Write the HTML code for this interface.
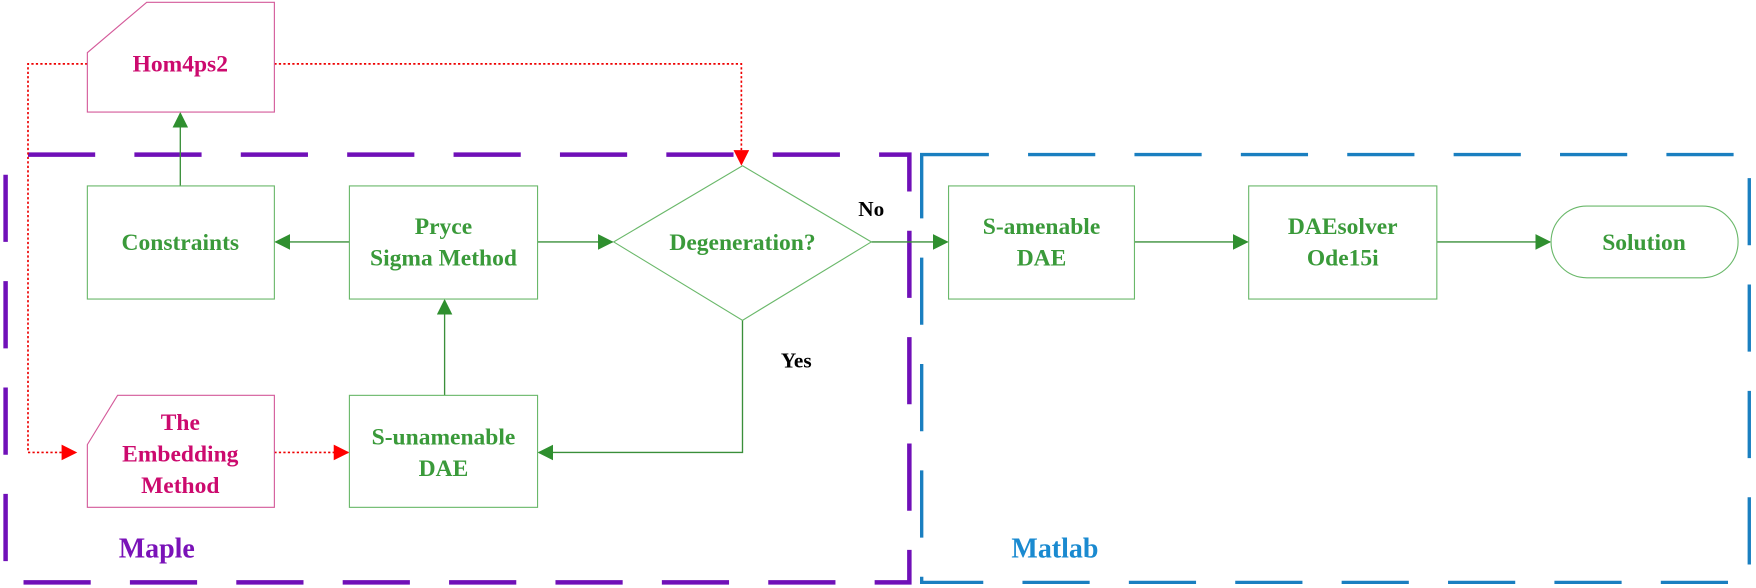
<!DOCTYPE html>
<html><head><meta charset="utf-8"><style>
html,body{margin:0;padding:0;background:#fff;width:1756px;height:588px;overflow:hidden}
svg{display:block}
text{font-family:"Liberation Serif",serif;font-weight:bold;text-anchor:middle}
.g{fill:#3a9a3a;font-size:21px}
.m{fill:#cc0a6e;font-size:21px}
</style></head><body>
<svg width="1756" height="588" viewBox="0 0 1568 525" xmlns="http://www.w3.org/2000/svg">
<defs>
<marker id="ag" markerWidth="14" markerHeight="14" refX="13" refY="7" orient="auto" markerUnits="userSpaceOnUse"><path d="M0,0 L14,7 L0,14 z" fill="#2f8f2f"/></marker>
<marker id="ar" markerWidth="14" markerHeight="14" refX="13" refY="7" orient="auto" markerUnits="userSpaceOnUse"><path d="M0,0 L14,7 L0,14 z" fill="#f00"/></marker>
</defs>
<rect x="5" y="138" width="807" height="382" fill="none" stroke="#7010b8" stroke-width="4" stroke-dasharray="60,35" stroke-dashoffset="-20"/>
<rect x="823" y="138" width="739" height="382" fill="none" stroke="#1a7fc0" stroke-width="3" stroke-dasharray="60,35"/>
<g fill="none" stroke="#e00" stroke-width="1.5" stroke-dasharray="2,2">
<polyline points="78,57 25,57 25,404 68,404" marker-end="url(#ar)"/>
<polyline points="245,57 662,57 662,147" marker-end="url(#ar)"/>
<polyline points="245,404 311,404" marker-end="url(#ar)"/>
</g>
<g fill="none" stroke="#3a8f3a" stroke-width="1.2">
<line x1="161" y1="166" x2="161" y2="101" marker-end="url(#ag)"/>
<line x1="312" y1="216" x2="246" y2="216" marker-end="url(#ag)"/>
<line x1="480" y1="216" x2="547" y2="216" marker-end="url(#ag)"/>
<line x1="778" y1="216" x2="846" y2="216" marker-end="url(#ag)"/>
<line x1="1013" y1="216" x2="1114" y2="216" marker-end="url(#ag)"/>
<line x1="1283" y1="216" x2="1384" y2="216" marker-end="url(#ag)"/>
<polyline points="663,286 663,404 481,404" marker-end="url(#ag)"/>
<line x1="397" y1="353" x2="397" y2="268" marker-end="url(#ag)"/>
</g>
<g fill="#fff" stroke="#d45a9a" stroke-width="1">
<polygon points="131,2 245,2 245,100 78,100 78,47"/>
<polygon points="105,353 245,353 245,453 78,453 78,397"/>
</g>
<g fill="#fff" stroke="#6ab86a" stroke-width="1">
<rect x="78" y="166" width="167" height="101"/>
<rect x="312" y="166" width="168" height="101"/>
<polygon points="663,148 778,216 663,286 548,216"/>
<rect x="312" y="353" width="168" height="100"/>
<rect x="847" y="166" width="166" height="101"/>
<rect x="1115" y="166" width="168" height="101"/>
<rect x="1385" y="184" width="167" height="64" rx="32"/>
</g>
<text class="m" x="161" y="64">Hom4ps2</text>
<text class="g" x="161" y="223">Constraints</text>
<text class="g" x="396" y="209">Pryce</text>
<text class="g" x="396" y="237">Sigma Method</text>
<text class="g" x="663" y="223">Degeneration?</text>
<text class="g" x="930" y="209">S-amenable</text>
<text class="g" x="930" y="237">DAE</text>
<text class="g" x="1199" y="209">DAEsolver</text>
<text class="g" x="1199" y="237">Ode15i</text>
<text class="g" x="1468" y="223">Solution</text>
<text class="m" x="161" y="384">The</text>
<text class="m" x="161" y="412">Embedding</text>
<text class="m" x="161" y="440">Method</text>
<text class="g" x="396" y="397">S-unamenable</text>
<text class="g" x="396" y="425">DAE</text>
<text x="778" y="193" style="font-size:19px;fill:#000">No</text>
<text x="711" y="328" style="font-size:19px;fill:#000">Yes</text>
<text x="140" y="498" style="font-size:25px;fill:#7a12b8">Maple</text>
<text x="942" y="498" style="font-size:25px;fill:#1a8ad0">Matlab</text>
</svg>
</body></html>
